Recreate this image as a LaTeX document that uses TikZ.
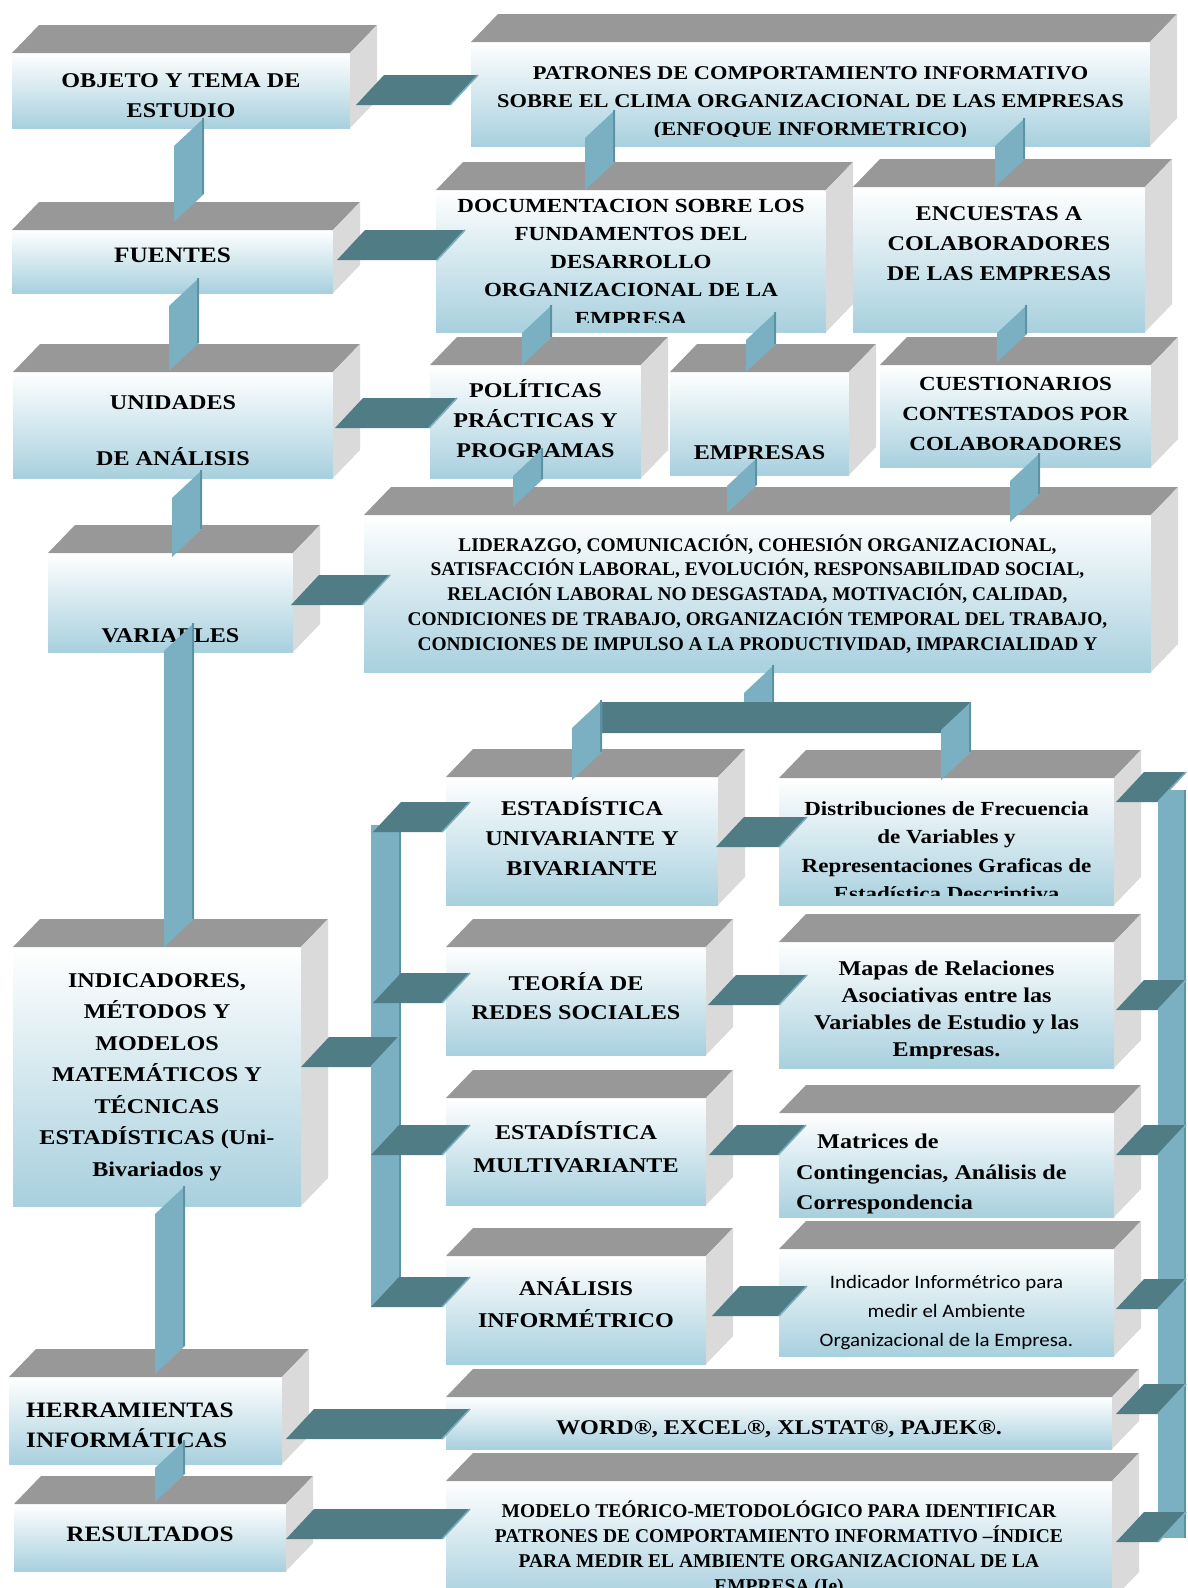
\documentclass[tikz,border=0pt]{standalone}
\usepackage{fontspec}
\setmainfont{Liberation Serif}
\newfontfamily\fA[FakeStretch=1.15]{Liberation Serif}
\newfontfamily\fB{Liberation Serif}
\newfontfamily\fC[FakeStretch=1.1]{Carlito}
\usetikzlibrary{calc}

\definecolor{frontblue}{RGB}{168,208,222}
\definecolor{topgray}{RGB}{152,152,152}
\definecolor{sidegray}{RGB}{218,218,218}
\definecolor{platecol}{RGB}{80,124,134}
\definecolor{linkblue}{RGB}{122,176,193}
\definecolor{linkdark}{RGB}{92,146,164}

\newcommand\FA[1]{\fA\bfseries\fontsize{#1}{#1}\selectfont}
\newcommand\FB[1]{\fB\bfseries\fontsize{#1}{#1}\selectfont}
\newcommand\FC[1]{\fC\fontsize{#1}{#1}\selectfont\color{black!75}}

% 3-D box: front face as a named node, plus top and right faces
\newcommand\tdbox[5]{%
  \pgfmathsetmacro\bw{#4-#2}\pgfmathsetmacro\bh{#5-#3}%
  \node[front, minimum width=\bw pt, minimum height=\bh pt] (#1) at (#2,#3) {};
  \fill[topface] (#1.north west) -- ++(27,-28) -- ($(#1.north east)+(27,-28)$) -- (#1.north east) -- cycle;
  \fill[sideface] (#1.north east) -- ++(27,-28) -- ($(#1.south east)+(27,-28)$) -- (#1.south east) -- cycle;
}

% centred lines of text inside a box, clipped to its front face
% [#1 bottom margin of the clip] #2 box, #3 font, #4 first baseline, #5 line spacing, #6 lines
\newcommand\btext[6][10]{%
  \begin{scope}
    \clip (#2.north west) rectangle ($(#2.south east)+(0,-#1)$);
    \foreach \tline [count=\k] in {#6}{
      \pgfmathsetmacro\yy{#4+(\k-1)*#5}
      \node[txt, font={#3}] (#2-t\k) at (#2.north |- 0,\yy) {\tline};
    }
  \end{scope}}

% flat dark plate joining two boxes side by side
% #1 start anchor, #2 end anchor, #3 lower edge y, #4 / #5 x offsets
\newcommand\hlink[5]{%
  \fill[plate] ($(#1 |- 0,#3)+(#4,0)$) -- ++(28,-30) -- ($(#2 |- 0,#3)+(#5,-30)$) -- ++(-28,30) -- cycle;
  \draw[plateedge] ($(#2 |- 0,#3)+(#5,-30)$) -- ++(-28,30);
}

% upright light-blue strip joining a box to the one below
% #1 upper anchor, #2 lower anchor, #3 left x, #4 rise above #1, #5 rise above #2
\newcommand\vlink[5]{%
  \fill[link] ($(#3,0 |- #1)+(30,{-(#4)})$) -- ($(#3,0 |- #2)+(30,{-(#5)-28})$)
    -- ($(#3,0 |- #2)+(0,{-(#5)})$) -- ($(#3,0 |- #1)+(0,{28-(#4)})$) -- cycle;
  \draw[linkedge] ($(#3,0 |- #1)+(29,{-(#4)})$) -- ($(#3,0 |- #2)+(29,{-(#5)-28})$);
}

\begin{document}
\begin{tikzpicture}[x=1pt,y=-1pt,
  front/.style={rectangle, inner sep=0pt, outer sep=0pt, anchor=north west,
    top color=white, middle color=white!75!frontblue, bottom color=frontblue},
  topface/.style={fill=topgray},
  sideface/.style={fill=sidegray},
  plate/.style={fill=platecol},
  plateedge/.style={draw=linkblue, line width=1.6pt},
  link/.style={fill=linkblue},
  linkedge/.style={draw=linkdark, line width=1.2pt},
  bar/.style={rectangle, inner sep=0pt, outer sep=0pt, anchor=north west, fill=linkblue},
  txt/.style={inner sep=0pt, anchor=base, text=black}]

\fill[white] (0,0) rectangle (1188,1588);
\useasboundingbox (0,0) rectangle (1188,1588);

% ---- boxes ----
\tdbox{objeto}{12}{53}{350}{128}
\tdbox{patrones}{471}{42}{1150}{146}
\tdbox{fuentes}{12}{230}{333}{293}
\tdbox{docum}{436}{190}{826}{332}
\tdbox{encuestas}{853}{187}{1145}{332}
\tdbox{unidades}{13}{372}{333}{478}
\tdbox{politicas}{430}{365}{641}{478}
\tdbox{empresas}{670}{372}{849}{475}
\tdbox{cuestionarios}{880}{365}{1151}{467}
\tdbox{variables}{48}{553}{293}{652}
\tdbox{liderazgo}{364}{515}{1151}{672}
\tdbox{estuni}{446}{777}{718}{905}
\tdbox{distrib}{779}{778}{1114}{905}
\tdbox{teoria}{446}{947}{706}{1055}
\tdbox{mapas}{779}{942}{1114}{1068}
\tdbox{estmulti}{446}{1098}{706}{1205}
\tdbox{matrices}{779}{1113}{1114}{1217}
\tdbox{analisis}{446}{1256}{706}{1364}
\tdbox{indicador}{779}{1249}{1114}{1356}
\tdbox{indicadores}{13}{947}{301}{1206}
\tdbox{herramientas}{9}{1377}{282}{1464}
\tdbox{resultados}{14}{1504}{286}{1571}
\tdbox{word}{446}{1397}{1112}{1449}
\tdbox{modelo}{446}{1481}{1112}{1600}

% ---- texts ----
\btext{objeto}{\FA{21}}{87}{30}{{OBJETO Y TEMA DE},{ESTUDIO}}
\btext{patrones}{\FA{19.5}}{79}{28}{{PATRONES DE COMPORTAMIENTO INFORMATIVO},{SOBRE EL CLIMA  ORGANIZACIONAL DE LAS EMPRESAS},{(ENFOQUE  INFORMETRICO)}}
\btext{fuentes}{\FA{22}}{262}{30}{{FUENTES}}
\btext{docum}{\FA{20}}{212}{28.3}{{DOCUMENTACION SOBRE LOS},{FUNDAMENTOS DEL},{DESARROLLO},{ORGANIZACIONAL DE LA},{EMPRESA}}
\btext{encuestas}{\FA{21}}{220}{30}{{ENCUESTAS A},{COLABORADORES},{DE LAS EMPRESAS}}
\btext{unidades}{\FA{21}}{409}{56}{{UNIDADES},{DE ANÁLISIS}}
\btext{politicas}{\FA{21}}{397}{30}{{POLÍTICAS},{PRÁCTICAS Y},{PROGRAMAS}}
\btext{empresas}{\FA{21}}{459}{30}{{EMPRESAS}}
\btext{cuestionarios}{\FA{20}}{390}{30}{{CUESTIONARIOS},{CONTESTADOS POR},{COLABORADORES}}
\btext{variables}{\FA{21}}{642}{30}{{VARIABLES}}
\btext{liderazgo}{\FB{19.4}}{551}{24.8}{{LIDERAZGO, COMUNICACIÓN, COHESIÓN ORGANIZACIONAL,},{SATISFACCIÓN LABORAL, EVOLUCIÓN, RESPONSABILIDAD SOCIAL,},{RELACIÓN LABORAL NO DESGASTADA, MOTIVACIÓN, CALIDAD,},{CONDICIONES DE TRABAJO, ORGANIZACIÓN TEMPORAL DEL TRABAJO,},{CONDICIONES DE IMPULSO A LA PRODUCTIVIDAD, IMPARCIALIDAD Y}}
\btext{estuni}{\FA{21}}{815}{30}{{ESTADÍSTICA},{UNIVARIANTE Y},{BIVARIANTE}}
\btext{distrib}{\FA{20}}{815}{28.5}{{Distribuciones de Frecuencia},{de Variables  y},{Representaciones Graficas de},{Estadística Descriptiva}}
\btext{teoria}{\FA{21}}{990}{29}{{TEORÍA DE},{REDES SOCIALES}}
\btext{mapas}{\FA{21}}{975}{27}{{Mapas de Relaciones},{Asociativas entre las},{Variables de Estudio y las},{Empresas.}}
\btext{estmulti}{\FA{21}}{1139}{33}{{ESTADÍSTICA},{MULTIVARIANTE}}
\btext{analisis}{\FA{21}}{1295}{32}{{ANÁLISIS},{INFORMÉTRICO}}
\btext[0]{indicador}{\FC{19}}{1288}{29}{{Indicador Informétrico para},{medir el Ambiente},{Organizacional de la Empresa.}}
\btext{indicadores}{\FA{21}}{987}{31.5}{{INDICADORES,},{MÉTODOS Y},{MODELOS},{MATEMÁTICOS Y},{TÉCNICAS},{ESTADÍSTICAS (Uni-},{Bivariados y}}
\btext{resultados}{\FA{22}}{1541}{30}{{RESULTADOS}}
\btext{word}{\FA{21}}{1434}{30}{{WORD®, EXCEL®, XLSTAT®, PAJEK®.}}
\btext{modelo}{\FB{19.5}}{1517}{25}{{MODELO TEÓRICO-METODOLÓGICO PARA IDENTIFICAR},{PATRONES DE COMPORTAMIENTO INFORMATIVO –ÍNDICE},{PARA MEDIR EL AMBIENTE ORGANIZACIONAL DE LA},{EMPRESA (Ie)}}

% left-aligned texts
\node[txt, anchor=base west, font={\FA{22}}] (herramientas-t1) at (26,1417) {HERRAMIENTAS};
\node[txt, anchor=base west, font={\FA{22}}] (herramientas-t2) at (26,1447) {INFORMÁTICAS};
\node[txt, anchor=base west, font={\FA{21}}] (matrices-t1) at (817,1148) {Matrices de};
\node[txt, anchor=base west, font={\FA{21}}] (matrices-t2) at (796,1179) {Contingencias, Análisis de};
\node[txt, anchor=base west, font={\FA{21}}] (matrices-t3) at (796,1209) {Correspondencia};

% ---- bars ----
\node[bar, minimum width=30pt, minimum height=482pt] (lbar) at (371,825) {};
\node[bar, minimum width=28pt, minimum height=748pt] (rbar) at (1158,790) {};
\draw[linkedge] (lbar.north east) ++(-1,0) -- ($(lbar.south east)+(-1,0)$);
\draw[linkedge] (rbar.north east) ++(-1,0) -- ($(rbar.south east)+(-1,0)$);

% junction bar below the variables box
\coordinate (tbtop) at (600,702);
\coordinate (tbbot) at (572,733);
\coordinate (tbtopr) at (971,702);
\coordinate (tbbotr) at (943,733);
\vlink{liderazgo.south}{tbbot}{744}{7}{3}
\fill[plate] (tbbot) -- (tbtop) -- (tbtopr) -- (tbbotr) -- cycle;
\vlink{tbtop}{estuni.north}{572}{2}{-3}
\vlink{tbtop}{distrib.north}{941}{0}{-2}

% ---- vertical links ----
\vlink{objeto.south}{fuentes.north}{174}{10}{8}
\vlink{fuentes.south}{unidades.north}{169}{15}{1}
\vlink{unidades.south}{variables.north}{172}{8}{-4}
\vlink{variables.south}{indicadores.north}{164}{29}{0}
\vlink{indicadores.south}{herramientas.north}{155}{20}{3}
\vlink{herramientas.south}{resultados.north}{155}{24}{2}
\vlink{patrones.south}{docum.north}{585}{36}{0}
\vlink{patrones.south}{encuestas.north}{995}{28}{0}
\vlink{docum.south}{politicas.north}{522}{27}{0}
\vlink{docum.south}{empresas.north}{746}{20}{0}
\vlink{encuestas.south}{cuestionarios.north}{997}{27}{3}
\vlink{politicas.south}{liderazgo.north}{513}{30}{8}
\vlink{empresas.south}{liderazgo.north}{727}{17}{2}
\vlink{cuestionarios.south}{liderazgo.north}{1010}{14}{-7}

% ---- horizontal plates ----
\hlink{objeto.east}{patrones.west}{105}{6}{7}
\hlink{fuentes.east}{docum.west}{260}{4}{29}
\hlink{unidades.east}{politicas.west}{428}{2}{27}
\hlink{variables.east}{liderazgo.west}{605}{-2}{26}
\hlink{indicadores.east}{lbar.east}{1067}{0}{-2}
\hlink{lbar.west}{estuni.west}{832}{2}{24}
\hlink{lbar.west}{teoria.west}{1003}{2}{24}
\hlink{lbar.west}{estmulti.west}{1155}{0}{24}
\hlink{lbar.west}{analisis.west}{1307}{0}{24}
\hlink{estuni.east}{distrib.west}{847}{-2}{28}
\hlink{teoria.east}{mapas.west}{1005}{2}{28}
\hlink{estmulti.east}{matrices.west}{1155}{3}{27}
\hlink{analisis.east}{indicador.west}{1316}{6}{28}
\hlink{herramientas.east}{word.west}{1439}{4}{24}
\hlink{resultados.east}{modelo.west}{1539}{0}{24}
\hlink{distrib.east}{rbar.east}{802}{2}{0}
\hlink{mapas.east}{rbar.east}{1010}{2}{0}
\hlink{matrices.east}{rbar.east}{1155}{2}{0}
\hlink{indicador.east}{rbar.east}{1309}{2}{0}
\hlink{word.east}{rbar.east}{1414}{4}{0}
\hlink{modelo.east}{rbar.east}{1542}{4}{0}
\end{tikzpicture}
\end{document}
